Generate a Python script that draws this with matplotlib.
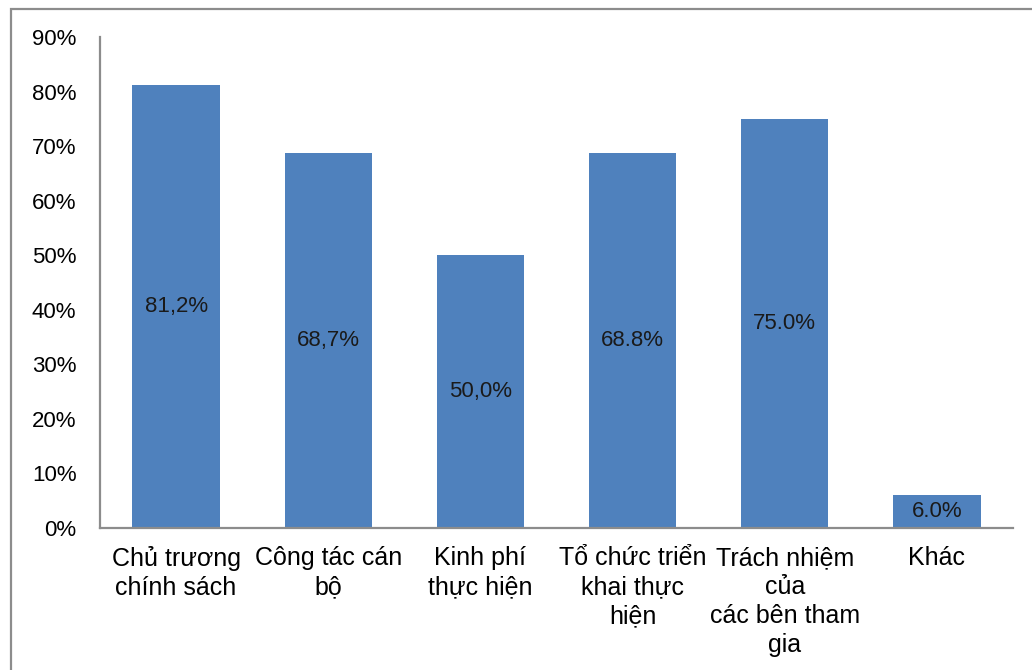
import numpy as np
import matplotlib.pyplot as plt
from matplotlib.patches import Rectangle

categories = ["Chủ trương\nchính sách", "Công tác cán\nbộ", "Kinh phí\nthực hiện",
              "Tổ chức triển\nkhai thực\nhiện", "Trách nhiệm\ncủa\ncác bên tham\ngia", "Khác"]
values = [0.812, 0.687, 0.500, 0.688, 0.750, 0.060]
bar_labels = ["81,2%", "68,7%", "50,0%", "68.8%", "75.0%", "6.0%"]
yticks = [0.0, 0.1, 0.2, 0.3, 0.4, 0.5, 0.6, 0.7, 0.8, 0.9]

plt.rcParams['font.family'] = ['Liberation Sans', 'DejaVu Sans']

W, H = 1032, 670
fig = plt.figure(figsize=(W / 100, H / 100), dpi=100)
ax = fig.add_axes([100 / W, 1 - 528 / H, 913 / W, 491 / H])

# outer chart frame (runs off the right and bottom edges)
fig.patches.append(Rectangle((11 / W, -0.05), 1.1, 1 - 9 / H + 0.05, transform=fig.transFigure,
                             fill=False, edgecolor='#8c8c8c', linewidth=1.6))

x = np.arange(len(categories))
bars = ax.bar(x, values, width=0.575, color='#4f81bd')

for xi, v, lab in zip(x, values, bar_labels):
    ax.text(xi, v / 2, lab, ha='center', va='center', fontsize=16, color='#1a1a1a')

ax.set_xlim(-0.5, len(categories) - 0.5)
ax.set_ylim(0, 0.9)
ax.set_yticks(yticks)
ax.set_yticklabels([f"{int(round(t * 100))}%" for t in yticks], fontsize=16)
ax.set_xticks(x)
ax.set_xticklabels(categories, fontsize=18, linespacing=1.27, va='top')
ax.tick_params(axis='y', length=0, pad=17)
ax.tick_params(axis='x', length=0, pad=13)

for s in ['top', 'right']:
    ax.spines[s].set_visible(False)
for s in ['left', 'bottom']:
    ax.spines[s].set_color('#8c8c8c')
    ax.spines[s].set_linewidth(1.6)

fig.savefig("out.png", dpi=100)
